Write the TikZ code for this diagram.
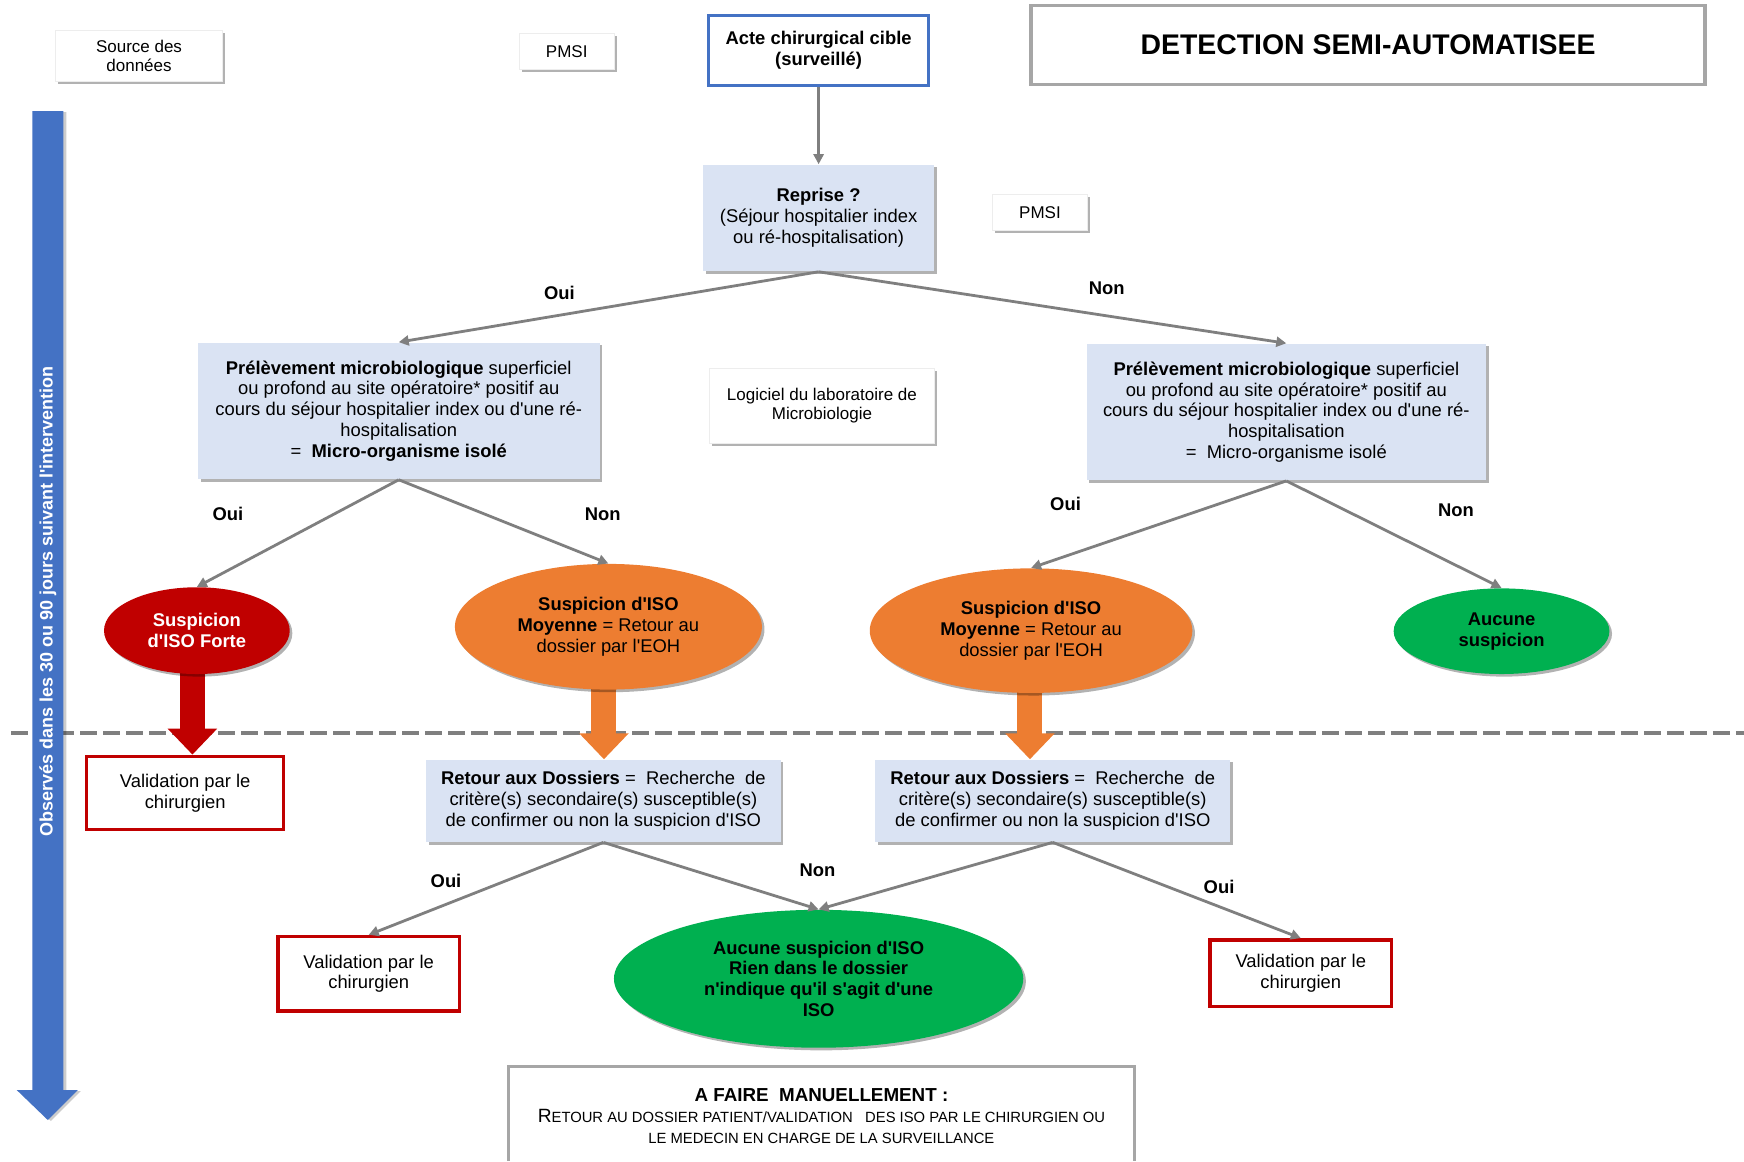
\documentclass[tikz,border=0pt]{standalone}
\usepackage{fontspec}
\setmainfont{Liberation Sans}[Ligatures=TeXOff]
\usetikzlibrary{shapes.geometric,arrows.meta,shadows,backgrounds}
\definecolor{cblue}{HTML}{4472C4}
\definecolor{lblue}{HTML}{DAE3F3}
\definecolor{cred}{HTML}{C00000}
\definecolor{corange}{HTML}{ED7D31}
\definecolor{cgreen}{HTML}{00B050}
\definecolor{cgrey}{HTML}{7F7F7F}
\definecolor{bgrey}{HTML}{A6A6A6}
\begin{document}
\begin{tikzpicture}[x=0.5562pt,y=-0.5562pt,
 wh/.style 2 args={minimum width=#1*0.5562pt, minimum height=#2*0.5562pt},
 shad/.style={drop shadow={shadow xshift=1.3pt,shadow yshift=-1.3pt,opacity=0.3,fill=black}},
 srcbox/.style={fill=white, draw=black!7, line width=0.4pt, shad, inner sep=0pt, align=center, font=\fontsize{8.5}{9.6}\selectfont},
 bluebox/.style={fill=lblue, shad, inner sep=0pt, align=center, font=\fontsize{9.2}{10.4}\selectfont},
 valbox/.style={draw=cred, line width=1.7pt, fill=white, inner sep=0pt, align=center, font=\fontsize{9.2}{10.4}\selectfont},
 ell/.style={ellipse, inner sep=0pt, align=center, shad, font=\fontsize{9.2}{10.4}\selectfont},
 conn/.style={draw=cgrey, line width=1.4pt, -{Triangle[length=5pt,width=5pt]}},
 lab/.style={font=\bfseries\fontsize{9.2}{10.4}\selectfont},
 fat/.style={line width=12.5pt, -{Triangle[length=13pt,width=24pt]}},
]
\useasboundingbox (0,0) rectangle (1568,1044);

% top boxes
\node[srcbox, wh={150}{46}] (src) at (125,50) {Source des\\données};
\node[srcbox, wh={85}{32}] (pmsi1) at (509.5,46) {PMSI};
\node[draw=cblue, line width=1.7pt, fill=white, inner sep=0pt, align=center, wh={198}{63},
  font=\bfseries\fontsize{9.2}{10.4}\selectfont] (acte) at (736,45.5) {Acte chirurgical cible\\(surveillé)};
\node[draw=bgrey, line width=1.7pt, inner sep=0pt, wh={606}{71},
  font=\bfseries\fontsize{14.2}{16}\selectfont] (title) at (1230,40.5) {DETECTION SEMI-AUTOMATISEE};

\node[bluebox, wh={208}{96}] (reprise) at (736,196) {\textbf{Reprise ?}\\(Séjour hospitalier index\\ou ré-hospitalisation)};
\node[srcbox, wh={86}{32}] (pmsi2) at (935,191) {PMSI};

\node[bluebox, wh={361}{123}] (prelL) at (358.5,369.5) {\textbf{Prélèvement microbiologique} superficiel\\ou profond au site opératoire* positif au\\cours du séjour hospitalier index ou d'une ré-\\hospitalisation\\=\ \ \textbf{Micro-organisme isolé}};
\node[srcbox, wh={202}{68}] (logi) at (739,365) {Logiciel du laboratoire de\\Microbiologie};
\node[bluebox, wh={359}{123}] (prelR) at (1156.5,370.5) {\textbf{Prélèvement microbiologique} superficiel\\ou profond au site opératoire* positif au\\cours du séjour hospitalier index ou d'une ré-\\hospitalisation\\=\ \ Micro-organisme\ isolé};

% ellipses
\node[ell, fill=cred, text=white, font=\bfseries\fontsize{9.2}{10.4}\selectfont, wh={167}{78}] (forte) at (177,567) {Suspicion\\d'ISO Forte};
\node[ell, fill=corange, wh={276}{113}] (moy1) at (547,563.5) {\textbf{Suspicion d'ISO}\\\textbf{Moyenne} = Retour au\\dossier par l'EOH};
\node[ell, fill=corange, wh={290}{112}] (moy2) at (927,567) {\textbf{Suspicion d'ISO}\\\textbf{Moyenne} = Retour au\\dossier par l'EOH};
\node[ell, fill=cgreen, font=\bfseries\fontsize{9.2}{10.4}\selectfont, wh={194}{77}] (aucune) at (1350,567.5) {Aucune\\suspicion};

% lower part
\node[valbox, wh={177}{66}] (val1) at (166.5,713) {Validation par le\\chirurgien};
\node[bluebox, wh={319}{74}] (ret1) at (542.5,720) {\textbf{Retour aux Dossiers} =\ \ Recherche\ \ de\\critère(s) secondaire(s) susceptible(s)\\de confirmer ou non la suspicion d'ISO};
\node[bluebox, wh={319}{74}] (ret2) at (946.5,720) {\textbf{Retour aux Dossiers} =\ \ Recherche\ \ de\\critère(s) secondaire(s) susceptible(s)\\de confirmer ou non la suspicion d'ISO};
\node[valbox, wh={163}{67}] (val2) at (331.5,875.5) {Validation par le\\chirurgien};
\node[valbox, wh={163}{60}] (val3) at (1169.5,875) {Validation par le\\chirurgien};
\node[ell, fill=cgreen, font=\bfseries\fontsize{9.2}{10.4}\selectfont, wh={368}{124}] (aucune2) at (736,880) {Aucune suspicion d'ISO\\Rien dans le dossier\\n'indique qu'il s'agit d'une\\ISO};

% bottom box
\draw[bgrey, line width=1.4pt] (457,1044) |- (1020,959) -- (1020,1044);
\node[align=center, inner sep=0pt, font=\fontsize{9.4}{10.3}\selectfont] (manu) at (738.5,1003.5) {\textbf{A FAIRE\ \ MANUELLEMENT :}\\{\fontsize{9.6}{10.3}\selectfont R}{\fontsize{7.4}{10.3}\selectfont ETOUR AU DOSSIER PATIENT/VALIDATION\ \ \ DES ISO PAR LE CHIRURGIEN OU}\\{\fontsize{7.4}{10.3}\selectfont LE MEDECIN EN CHARGE DE LA SURVEILLANCE}};

% connectors
\draw[conn] (acte) -- (reprise);
\draw[conn] (reprise.south) -- (prelL.north);
\draw[conn] (reprise.south) -- (prelR.north);
\draw[conn] (prelL.south) -- (forte.north);
\draw[conn] (prelL.south) -- (moy1.north);
\draw[conn] (prelR.south) -- (moy2.north);
\draw[conn] (prelR.south) -- (aucune.north);
\draw[conn] (ret1.south) -- (val2.north);
\draw[conn] (ret1.south) -- (aucune2.north);
\draw[conn] (ret2.south) -- (aucune2.north);
\draw[conn] (ret2.south) -- (val3.north);

% labels
\node[lab] (l1) at (503,263) {Oui};
\node[lab] (l2) at (995,259) {Non};
\node[lab] (l3) at (205,462) {Oui};
\node[lab] (l4) at (542,462) {Non};
\node[lab] (l5) at (958,453) {Oui};
\node[lab] (l6) at (1309,459) {Non};
\node[lab] (l7) at (401,792) {Oui};
\node[lab] (l8) at (735,782) {Non};
\node[lab] (l9) at (1096,797) {Oui};

% background: dashed line and fat arrows
\begin{pgfonlayer}{background}
\coordinate (dl) at (10,659);
\coordinate (dr) at (1568,659);
\draw[cgrey, line width=2.2pt, dash pattern=on 8.6pt off 2.9pt] (dl) -- (dr);
\coordinate (fa1) at (173,595);
\coordinate (fa2) at (543,600);
\coordinate (fa3) at (926,600);
\draw[fat, cred] (fa1) -- (fa1 |- val1.north);
\draw[fat, corange] (fa2) -- (fa2 |- ret1.north);
\draw[fat, corange] (fa3) -- (fa3 |- ret2.north);
\end{pgfonlayer}

% blue time arrow
\fill[cblue, drop shadow={shadow xshift=1.5pt,shadow yshift=-0.5pt,opacity=0.2,fill=black}]
  (29,100) -- (57,100) -- (57,980) -- (70,980) -- (43,1007) -- (15,980) -- (29,980) -- cycle;
\node[rotate=90, text=white, inner sep=0pt, font=\bfseries\fontsize{9}{10}\selectfont] (obs) at (43,541) {Observés dans les 30 ou 90 jours suivant l'intervention};
\end{tikzpicture}
\end{document}
